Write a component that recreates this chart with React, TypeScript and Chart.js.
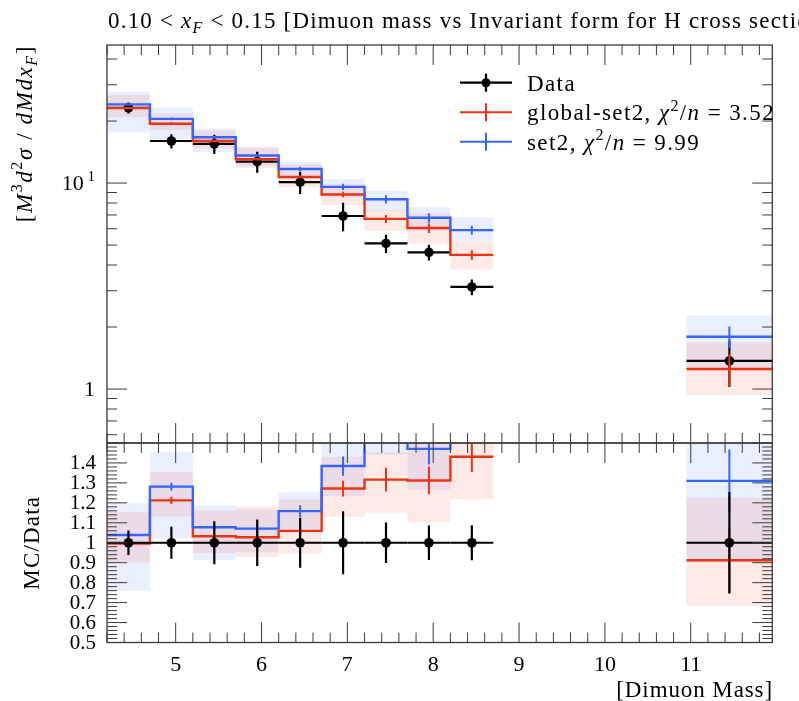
import React, { useEffect, useRef } from 'react';
import { Chart, registerables } from 'chart.js';

Chart.register(...registerables);

const W = 799;
const H = 701;

// Dimuon mass bins
const binLow = [4.2, 4.7, 5.2, 5.7, 6.2, 6.7, 7.2, 7.7, 8.2, 10.95];
const binHigh = [4.7, 5.2, 5.7, 6.2, 6.7, 7.2, 7.7, 8.2, 8.7, 11.95];

// Measured cross section and relative uncertainty
const dataValues = [23.2, 16.0, 15.5, 12.7, 10.1, 6.92, 5.09, 4.61, 3.13, 1.37];
const dataRelErr = [0.062, 0.08, 0.108, 0.117, 0.125, 0.158, 0.102, 0.087, 0.088, 0.254];

// global-set2 prediction
const globalValues = [23.1, 19.4, 16.0, 13.05, 10.7, 8.8, 6.7, 6.05, 4.48, 1.25];
const globalRelErr = [0.01, 0.015, 0.012, 0.012, 0.015, 0.031, 0.045, 0.053, 0.054, 0.18];
const globalBandLow = [20.9, 18.1, 14.7, 11.8, 9.56, 7.82, 5.86, 5.08, 3.81, 0.937];
const globalBandHigh = [26.8, 21.7, 18.0, 15.0, 12.3, 9.9, 7.4, 7.12, 5.2, 1.68];

// set2 prediction
const set2Values = [24.1, 20.5, 16.7, 13.6, 11.7, 9.58, 8.34, 6.78, 5.91, 1.795];
const set2RelErr = [0.01, 0.015, 0.01, 0.01, 0.025, 0.035, 0.045, 0.053, 0.05, 0.12];
const set2BandLow = [17.6, 16.35, 14.15, 12.1, 10.6, 8.53, 7.34, 5.84, 5.23, 1.233];
const set2BandHigh = [27.8, 23.3, 18.4, 14.8, 12.65, 10.45, 9.18, 7.64, 6.83, 2.28];

// Axis ranges and tick labels
const xRange = [4.2, 11.95];
const yRange = [0.547, 46.8];
const ratioRange = [0.5, 1.5];
const xTickLabels = [5, 6, 7, 8, 9, 10, 11];
const logTickLabels = [1, 10];
const ratioTickLabels = [0.5, 0.6, 0.7, 0.8, 0.9, 1, 1.1, 1.2, 1.3, 1.4];

const legendEntries = [
  { label: 'Data', chi2: '' },
  { label: 'global-set2, ', chi2: '3.52' },
  { label: 'set2, ', chi2: '9.99' },
];

const RED = '#EE3311';
const BLUE = '#3366FF';
const RED_FILL = 'rgba(238, 51, 17, 0.10)';
const BLUE_FILL = 'rgba(51, 102, 255, 0.10)';
const SERIF = '"Liberation Serif", "Times New Roman", serif';
const FRAME = '#3a3a3a';

const AREA = { left: 107, right: 772.3, top: 45, mid: 443, bottom: 642.5 };

type Seg = { t: string; it?: boolean; sup?: boolean; sub?: boolean };

function segFont(s: Seg, size: number) {
  const sz = s.sup || s.sub ? Math.round(size * 0.7) : size;
  return `${s.it ? 'italic ' : ''}${sz}px ${SERIF}`;
}

function richWidth(ctx: CanvasRenderingContext2D, segs: Seg[], size: number) {
  let w = 0;
  for (const s of segs) {
    ctx.font = segFont(s, size);
    w += ctx.measureText(s.t).width;
  }
  return w;
}

function drawRich(
  ctx: CanvasRenderingContext2D,
  segs: Seg[],
  x: number,
  y: number,
  size: number,
  align: 'left' | 'right' | 'center',
  spacing = 0
) {
  const c = ctx as any;
  c.letterSpacing = `${spacing}px`;
  const total = richWidth(ctx, segs, size);
  let cx = align === 'left' ? x : align === 'right' ? x - total : x - total / 2;
  ctx.textAlign = 'left';
  ctx.textBaseline = 'alphabetic';
  for (const s of segs) {
    ctx.font = segFont(s, size);
    const dy = s.sup ? -size * 0.42 : s.sub ? size * 0.22 : 0;
    ctx.fillText(s.t, cx, y + dy);
    cx += ctx.measureText(s.t).width;
  }
  c.letterSpacing = '0px';
}

const centers = binLow.map((lo, i) => (lo + binHigh[i]) / 2);

function stepPoints(vals: number[]) {
  const pts: { x: number; y: number | null }[] = [];
  for (let i = 0; i < vals.length; i++) {
    pts.push({ x: binLow[i], y: vals[i] });
    const next = binLow[i + 1];
    if (next === undefined || next > binHigh[i] + 1e-9) {
      pts.push({ x: binHigh[i], y: vals[i] });
      if (next !== undefined) pts.push({ x: (binHigh[i] + next) / 2, y: null });
    }
  }
  return pts;
}

type Series = {
  name: string;
  values: number[];
  relErr: number[];
  bandLow: number[];
  bandHigh: number[];
  color: string;
  fill: string;
};

const globalSeries: Series = {
  name: 'global-set2',
  values: globalValues,
  relErr: globalRelErr,
  bandLow: globalBandLow,
  bandHigh: globalBandHigh,
  color: RED,
  fill: RED_FILL,
};
const set2Series: Series = {
  name: 'set2',
  values: set2Values,
  relErr: set2RelErr,
  bandLow: set2BandLow,
  bandHigh: set2BandHigh,
  color: BLUE,
  fill: BLUE_FILL,
};

function clipArea(ctx: CanvasRenderingContext2D, a: { left: number; top: number; right: number; bottom: number }) {
  ctx.beginPath();
  ctx.rect(a.left, a.top, a.right - a.left, a.bottom - a.top);
  ctx.clip();
}

function drawBands(chart: any, norm: number[] | null) {
  const { ctx, chartArea: a, scales } = chart;
  const x = scales.x;
  const y = scales.y;
  ctx.save();
  clipArea(ctx, a);
  for (const s of [set2Series, globalSeries]) {
    ctx.fillStyle = s.fill;
    for (let i = 0; i < binLow.length; i++) {
      const d = norm ? norm[i] : 1;
      const x0 = x.getPixelForValue(binLow[i]);
      const x1 = x.getPixelForValue(binHigh[i]);
      const y0 = y.getPixelForValue(s.bandHigh[i] / d);
      const y1 = y.getPixelForValue(s.bandLow[i] / d);
      ctx.fillRect(x0, y0, x1 - x0, y1 - y0);
    }
  }
  ctx.restore();
}

function drawMcErrors(chart: any, s: Series, norm: number[] | null) {
  const { ctx, chartArea: a, scales } = chart;
  const x = scales.x;
  const y = scales.y;
  ctx.save();
  clipArea(ctx, a);
  ctx.strokeStyle = s.color;
  ctx.lineWidth = 2;
  for (let i = 0; i < binLow.length; i++) {
    const d = norm ? norm[i] : 1;
    const v = s.values[i];
    const e = v * s.relErr[i];
    const px = x.getPixelForValue(centers[i]);
    ctx.beginPath();
    ctx.moveTo(px, y.getPixelForValue((v - e) / d));
    ctx.lineTo(px, y.getPixelForValue((v + e) / d));
    ctx.stroke();
  }
  ctx.restore();
}

function drawDataErrors(chart: any, norm: boolean) {
  const { ctx, chartArea: a, scales } = chart;
  const x = scales.x;
  const y = scales.y;
  ctx.save();
  clipArea(ctx, a);
  ctx.strokeStyle = '#000';
  ctx.lineWidth = 2.2;
  for (let i = 0; i < binLow.length; i++) {
    const v = norm ? 1 : dataValues[i];
    const e = v * dataRelErr[i];
    const py = y.getPixelForValue(v);
    ctx.beginPath();
    ctx.moveTo(x.getPixelForValue(binLow[i]), py);
    ctx.lineTo(x.getPixelForValue(binHigh[i]), py);
    const px = x.getPixelForValue(centers[i]);
    ctx.moveTo(px, y.getPixelForValue(v - e));
    ctx.lineTo(px, y.getPixelForValue(v + e));
    ctx.stroke();
  }
  ctx.restore();
}

function tick(ctx: CanvasRenderingContext2D, x0: number, y0: number, x1: number, y1: number) {
  ctx.beginPath();
  ctx.moveTo(x0, y0);
  ctx.lineTo(x1, y1);
  ctx.stroke();
}

function drawFrameAndTicks(chart: any, yTicks: { v: number; major: boolean }[]) {
  const { ctx, chartArea: a, scales } = chart;
  const x = scales.x;
  const y = scales.y;
  ctx.save();
  ctx.strokeStyle = FRAME;
  ctx.lineWidth = 1;
  // x ticks every 0.2, major at integers
  for (let k = 21; k <= 59; k++) {
    const v = k / 5;
    if (v < xRange[0] - 1e-9 || v > xRange[1] + 1e-9) continue;
    const len = k % 5 === 0 ? 20 : 10;
    const px = x.getPixelForValue(v);
    tick(ctx, px, a.top, px, a.top + len);
    tick(ctx, px, a.bottom, px, a.bottom - len);
  }
  for (const t of yTicks) {
    const py = y.getPixelForValue(t.v);
    const len = t.major ? 20 : 10;
    tick(ctx, a.left, py, a.left + len, py);
    tick(ctx, a.right, py, a.right - len, py);
  }
  ctx.lineWidth = 1.3;
  ctx.strokeRect(a.left, a.top, a.right - a.left, a.bottom - a.top);
  ctx.restore();
}

function logTicks() {
  const out: { v: number; major: boolean }[] = [];
  for (const dec of [0.1, 1, 10]) {
    for (let m = 1; m <= 9; m++) {
      const v = m * dec;
      if (v >= yRange[0] && v <= yRange[1]) out.push({ v, major: m === 1 });
    }
  }
  return out;
}

function ratioTicks() {
  const out: { v: number; major: boolean }[] = [];
  for (let k = 25; k <= 75; k++) out.push({ v: k / 50, major: k % 5 === 0 });
  return out;
}

const topPanelPlugin = {
  id: 'topPanel',
  beforeDatasetsDraw(chart: any) {
    drawBands(chart, null);
  },
  beforeDatasetDraw(chart: any, args: any) {
    const label = chart.data.datasets[args.index].label;
    if (label === 'Data') drawDataErrors(chart, false);
  },
  afterDatasetDraw(chart: any, args: any) {
    const label = chart.data.datasets[args.index].label;
    if (label === 'global-set2') drawMcErrors(chart, globalSeries, null);
    if (label === 'set2') drawMcErrors(chart, set2Series, null);
  },
  afterDraw(chart: any) {
    const { ctx, scales } = chart;
    drawFrameAndTicks(chart, logTicks());
    ctx.save();
    ctx.fillStyle = '#000';
    // y tick labels
    for (const v of logTickLabels) {
      const py = scales.y.getPixelForValue(v);
      const segs: Seg[] = v === 1 ? [{ t: '1' }] : [{ t: '10' }, { t: ' 1', sup: true }];
      drawRich(ctx, segs, 95, py + 7, 22, 'right');
    }
    // title
    drawRich(
      ctx,
      [
        { t: '0.10 < ' },
        { t: 'x', it: true },
        { t: 'F', it: true, sub: true },
        { t: ' < 0.15 [Dimuon mass vs Invariant form for H cross section]' },
      ],
      108,
      28,
      23,
      'left',
      1.2
    );
    // y-axis title
    ctx.save();
    ctx.translate(32, AREA.top);
    ctx.rotate(-Math.PI / 2);
    drawRich(
      ctx,
      [
        { t: '[' },
        { t: 'M', it: true },
        { t: '3', sup: true },
        { t: 'd', it: true },
        { t: '2', sup: true },
        { t: 'σ', it: true },
        { t: ' / ' },
        { t: 'dMdx', it: true },
        { t: 'F', it: true, sub: true },
        { t: ']' },
      ],
      0,
      0,
      23,
      'right',
      1.6
    );
    ctx.restore();
    // legend
    const rows = [82.7, 112.3, 141.7];
    const colors = ['#000', RED, BLUE];
    legendEntries.forEach((entry, i) => {
      const ry = rows[i];
      ctx.strokeStyle = colors[i];
      ctx.lineWidth = i === 0 ? 2.2 : 2;
      tick(ctx, 460, ry, 512, ry);
      tick(ctx, 486, ry - 9, 486, ry + 9);
      if (i === 0) {
        ctx.fillStyle = '#000';
        ctx.beginPath();
        ctx.arc(486, ry, 4.5, 0, Math.PI * 2);
        ctx.fill();
      }
      ctx.fillStyle = '#000';
      const segs: Seg[] = entry.chi2
        ? [
            { t: entry.label },
            { t: 'χ', it: true },
            { t: '2', sup: true },
            { t: '/' },
            { t: 'n', it: true },
            { t: ' = ' + entry.chi2 },
          ]
        : [{ t: entry.label }];
      drawRich(ctx, segs, 527, ry + 8, 23, 'left', 1.4);
    });
    ctx.restore();
  },
};

const ratioPanelPlugin = {
  id: 'ratioPanel',
  beforeDatasetsDraw(chart: any) {
    drawBands(chart, dataValues);
  },
  beforeDatasetDraw(chart: any, args: any) {
    const label = chart.data.datasets[args.index].label;
    if (label === 'Data') drawDataErrors(chart, true);
  },
  afterDatasetDraw(chart: any, args: any) {
    const label = chart.data.datasets[args.index].label;
    if (label === 'global-set2') drawMcErrors(chart, globalSeries, dataValues);
    if (label === 'set2') drawMcErrors(chart, set2Series, dataValues);
  },
  afterDraw(chart: any) {
    const { ctx, scales } = chart;
    drawFrameAndTicks(chart, ratioTicks());
    ctx.save();
    ctx.fillStyle = '#000';
    ctx.font = `21px ${SERIF}`;
    ctx.textAlign = 'right';
    ctx.textBaseline = 'middle';
    for (const v of ratioTickLabels) {
      ctx.fillText(String(v), 96, scales.y.getPixelForValue(v) + 1);
    }
    ctx.font = `22px ${SERIF}`;
    ctx.textAlign = 'center';
    ctx.textBaseline = 'alphabetic';
    for (const v of xTickLabels) {
      ctx.fillText(String(v), scales.x.getPixelForValue(v), 671);
    }
    drawRich(ctx, [{ t: '[Dimuon Mass]' }], 773, 697, 23, 'right', 0.9);
    ctx.save();
    ctx.translate(39, scales.y.getPixelForValue(1));
    ctx.rotate(-Math.PI / 2);
    drawRich(ctx, [{ t: 'MC/Data' }], 0, 0, 23, 'center', 1.2);
    ctx.restore();
    ctx.restore();
  },
};

function baseOptions(top: number, bottom: number, yScale: any) {
  return {
    responsive: false,
    animation: false as const,
    devicePixelRatio: 1,
    events: [],
    layout: { padding: { left: AREA.left, right: W - AREA.right, top, bottom: H - bottom } },
    plugins: { legend: { display: false }, tooltip: { enabled: false }, title: { display: false } },
    scales: {
      x: { type: 'linear' as const, min: xRange[0], max: xRange[1], display: false },
      y: { ...yScale, display: false },
    },
  };
}

function stepDataset(label: string, vals: number[], color: string) {
  return {
    type: 'line' as const,
    label,
    data: stepPoints(vals),
    stepped: true,
    borderColor: color,
    borderWidth: 2.4,
    pointRadius: 0,
    fill: false,
    spanGaps: false,
  };
}

function dataDataset(vals: number[]) {
  return {
    type: 'scatter' as const,
    label: 'Data',
    data: centers.map((c, i) => ({ x: c, y: vals[i] })),
    pointRadius: 4.8,
    pointBackgroundColor: '#000',
    pointBorderWidth: 0,
    borderColor: '#000',
    showLine: false,
  };
}

export default function App() {
  const topRef = useRef<HTMLCanvasElement>(null);
  const ratioRef = useRef<HTMLCanvasElement>(null);

  useEffect(() => {
    const topChart = new Chart(topRef.current as HTMLCanvasElement, {
      type: 'line',
      data: {
        datasets: [
          stepDataset('set2', set2Values, BLUE),
          stepDataset('global-set2', globalValues, RED),
          dataDataset(dataValues),
        ] as any,
      },
      options: baseOptions(AREA.top, AREA.mid, {
        type: 'logarithmic',
        min: yRange[0],
        max: yRange[1],
      }) as any,
      plugins: [topPanelPlugin],
    });

    const ratioChart = new Chart(ratioRef.current as HTMLCanvasElement, {
      type: 'line',
      data: {
        datasets: [
          dataDataset(dataValues.map(() => 1)),
          stepDataset('set2', set2Values.map((v, i) => v / dataValues[i]), BLUE),
          stepDataset('global-set2', globalValues.map((v, i) => v / dataValues[i]), RED),
        ] as any,
      },
      options: baseOptions(AREA.mid, AREA.bottom, {
        type: 'linear',
        min: ratioRange[0],
        max: ratioRange[1],
      }) as any,
      plugins: [ratioPanelPlugin],
    });

    return () => {
      topChart.destroy();
      ratioChart.destroy();
    };
  }, []);

  return (
    <div style={{ position: 'fixed', left: 0, top: 0, width: W, height: H, background: '#fff' }}>
      <canvas ref={topRef} width={W} height={H} style={{ position: 'absolute', left: 0, top: 0 }} />
      <canvas ref={ratioRef} width={W} height={H} style={{ position: 'absolute', left: 0, top: 0 }} />
    </div>
  );
}
